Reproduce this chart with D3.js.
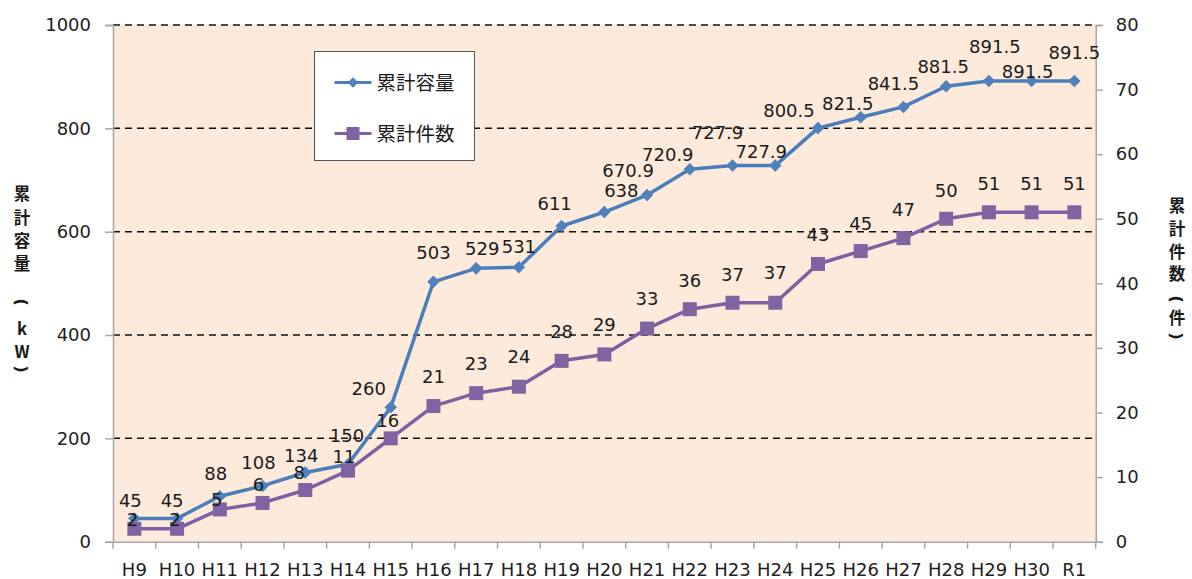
<!DOCTYPE html>
<html>
<head>
<meta charset="utf-8">
<script src="https://cdn.jsdelivr.net/npm/d3@7"></script>
<style>
body{margin:0;background:#fff;}
text{font-family:"DejaVu Sans",Verdana,sans-serif;}
</style>
</head>
<body>
<div id="chart"></div>
<script>
var years = ["H9","H10","H11","H12","H13","H14","H15","H16","H17","H18","H19","H20","H21","H22","H23","H24","H25","H26","H27","H28","H29","H30","R1"];
var capacity = [45,45,88,108,134,150,260,503,529,531,611,638,670.9,720.9,727.9,727.9,800.5,821.5,841.5,881.5,891.5,891.5,891.5];
var counts = [2,2,5,6,8,11,16,21,23,24,28,29,33,36,37,37,43,45,47,50,51,51,51];
var leftTicks = [0,200,400,600,800,1000];
var rightTicks = [0,10,20,30,40,50,60,70,80];
var capName = "累計容量";
var cntName = "累計件数";

// label nudges (moved by hand in the original)
var capLabelDx = [-4,-5,-4,-4,-4,-1,-22,0,6,0,-7,17,-19,-22,-15,-14,-29,-13,-10,-3,6,-4,0];
var capLabelDy = [-18,-18,-23,-23,-17,-29,-19,-29,-20,-21,-22,-22,-25,-15,-33,-14,-18,-14,-23,-20,-35,-10,-29];
var cntLabelDx = [-2,-2,-3,-4,-6,-4,-3,0,0,0,0,0,0,0,0,0,0,0,0,0,0,0,0];
var cntLabelDy = [-9,-9,-10,-18,-18,-14,-18,-30,-30,-30,-29,-30,-30,-29,-28,-30,-29,-28,-29,-28,-29,-29,-29];

var blue = "#4a7ebb";
var purple = "#7e5fa1";

var margin = {top:25, right:96.3, bottom:37.3, left:113};
var W = 1192, H = 579;
var width = W - margin.left - margin.right;
var height = H - margin.top - margin.bottom;

var svg = d3.select("#chart").append("svg")
	.attr("width", W).attr("height", H);

var g = svg.append("g").attr("transform","translate("+margin.left+","+margin.top+")");

var x = d3.scaleBand().domain(years).range([0,width]);
var y = d3.scaleLinear().domain([0,1000]).range([height,0]);
var y2 = d3.scaleLinear().domain([0,80]).range([height,0]);

//background
g.append("rect").attr("width",width).attr("height",height).attr("fill","#fdeada");

//gridlines
g.selectAll(".grid").data(leftTicks.filter(function(d){return d>0;}))
	.enter().append("line")
	.attr("x1",0).attr("x2",width)
	.attr("y1",function(d){return y(d);}).attr("y2",function(d){return y(d);})
	.attr("stroke","#111").attr("stroke-width",1.5).attr("stroke-dasharray","7,5");

//axes
var axisColor = "#a6a6a6";
var yAxis = d3.axisLeft(y).tickValues(leftTicks).tickFormat(d3.format("d")).tickSize(8).tickPadding(14);
var yAxisR = d3.axisRight(y2).tickValues(rightTicks).tickFormat(d3.format("d")).tickSize(7).tickPadding(13);

var gl = g.append("g").call(yAxis);
var gr = g.append("g").attr("transform","translate("+width+",0)").call(yAxisR);
[gl,gr].forEach(function(a){
	a.select(".domain").attr("stroke",axisColor).attr("stroke-width",1.5);
	a.selectAll(".tick line").attr("stroke",axisColor).attr("stroke-width",1.5);
	a.selectAll(".tick text").attr("fill","#222").style("font-size","18px").style("font-family","'DejaVu Sans',sans-serif");
});

var xAxis = d3.axisBottom(x).tickSize(0).tickPadding(22);
var gx = g.append("g").attr("transform","translate(0,"+height+")").call(xAxis);
gx.select(".domain").attr("stroke",axisColor).attr("stroke-width",1.5);
gx.selectAll(".tick text").attr("fill","#222").style("font-size","18px").style("font-family","'DejaVu Sans',sans-serif");
gx.selectAll(".btick").data(years.concat(["end"]))
	.enter().append("line")
	.attr("x1",function(d){return d=="end" ? width : x(d);})
	.attr("x2",function(d){return d=="end" ? width : x(d);})
	.attr("y1",0).attr("y2",7)
	.attr("stroke",axisColor).attr("stroke-width",1.5);

var cx = function(d,i){ return x(years[i]) + x.bandwidth()/2; };

//lines
var capLine = d3.line().x(function(d,i){return cx(d,i);}).y(function(d){return y(d);});
var cntLine = d3.line().x(function(d,i){return cx(d,i);}).y(function(d){return y2(d);});

g.append("path").attr("d",capLine(capacity)).attr("fill","none")
	.attr("stroke",blue).attr("stroke-width",3.5).attr("stroke-linejoin","round");
g.selectAll(".dia").data(capacity).enter().append("path")
	.attr("d",d3.symbol().type(d3.symbolDiamond2).size(100))
	.attr("transform",function(d,i){return "translate("+cx(d,i)+","+y(d)+")";})
	.attr("fill","#4f81bd");

g.append("path").attr("d",cntLine(counts)).attr("fill","none")
	.attr("stroke",purple).attr("stroke-width",3.5).attr("stroke-linejoin","round");
g.selectAll(".sq").data(counts).enter().append("rect")
	.attr("x",function(d,i){return cx(d,i)-7;})
	.attr("y",function(d){return y2(d)-7;})
	.attr("width",14).attr("height",14)
	.attr("fill","#8064a2");

//data labels
g.selectAll(".capLabel").data(capacity).enter().append("text")
	.attr("x",function(d,i){return cx(d,i)+capLabelDx[i];})
	.attr("y",function(d,i){return y(d)+capLabelDy[i];})
	.attr("dy","0.36em")
	.attr("text-anchor","middle")
	.style("font-size","18px").attr("fill","#1a1a1a")
	.text(function(d){return d;});

g.selectAll(".cntLabel").data(counts).enter().append("text")
	.attr("x",function(d,i){return cx(d,i)+cntLabelDx[i];})
	.attr("y",function(d,i){return y2(d)+cntLabelDy[i];})
	.attr("dy","0.36em")
	.attr("text-anchor","middle")
	.style("font-size","18px").attr("fill","#1a1a1a")
	.text(function(d){return d;});

//legend
var lg = svg.append("g").attr("transform","translate(314.5,51.5)");
lg.append("rect").attr("width",160).attr("height",109)
	.attr("fill","#fff").attr("stroke","#555").attr("stroke-width",1);
var items = [{name:capName,color:blue,mark:"dia"},{name:cntName,color:purple,mark:"sq"}];
items.forEach(function(it,i){
	var ly = 31 + i*51;
	lg.append("line").attr("x1",20).attr("x2",57).attr("y1",ly).attr("y2",ly)
		.attr("stroke",it.color).attr("stroke-width",3);
	if(it.mark=="dia"){
		lg.append("path").attr("d",d3.symbol().type(d3.symbolDiamond2).size(70))
			.attr("transform","translate(38.5,"+ly+")").attr("fill","#4f81bd");
	}else{
		lg.append("rect").attr("x",32).attr("y",ly-6.5).attr("width",13).attr("height",13).attr("fill","#8064a2");
	}
	lg.append("text").attr("x",62).attr("y",ly).attr("dy","0.36em")
		.style("font-family","'Noto Sans CJK JP',sans-serif").style("font-size","19.5px")
		.attr("fill","#1a1a1a").text(it.name);
});

//axis titles, stacked vertically; brackets turned sideways like the original
var leftTitle = [["累",194],["計",218],["容",241],["量",264],["(",302],["k",329],["W",352],[")",369]];
var rightTitle = [["累",206],["計",229],["件",252],["数",274],["(",299],["件",318],[")",336]];
function stack(list, xPos){
	svg.append("g").selectAll("text").data(list).enter().append("text")
		.attr("transform",function(d){
			var t = "translate("+xPos+","+d[1]+")";
			return (d[0]=="(" || d[0]==")") ? t+" rotate(90)" : t;
		})
		.attr("dy","0.35em")
		.attr("text-anchor","middle")
		.style("font-family",function(d){return (d[0]=="(" || d[0]==")") ? "'DejaVu Sans',sans-serif" : "'Noto Sans CJK JP',sans-serif";})
		.style("font-size","16.5px").style("font-weight","bold")
		.attr("fill","#1a1a1a")
		.text(function(d){return d[0];});
}
stack(leftTitle, 22);
stack(rightTitle, 1177);
</script>
</body>
</html>
